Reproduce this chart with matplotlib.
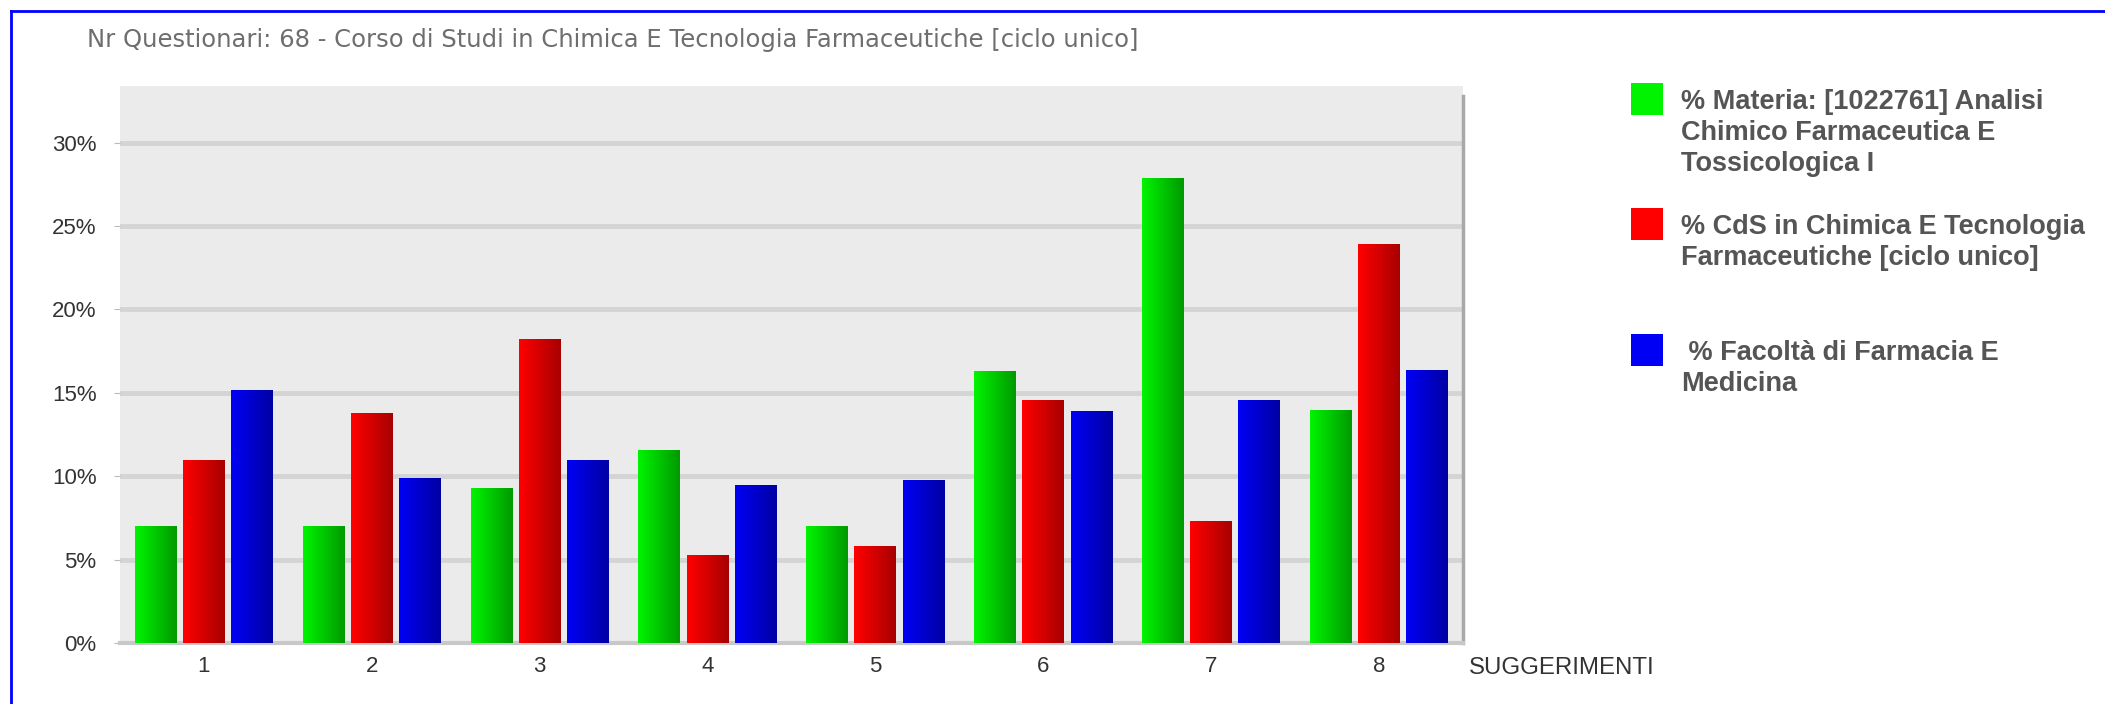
import numpy as np
import matplotlib.pyplot as plt
from matplotlib.patches import Rectangle
from matplotlib.lines import Line2D
from matplotlib.colors import LinearSegmentedColormap

# data (percent)
categories = ["1", "2", "3", "4", "5", "6", "7", "8"]
materia = [7.0, 7.0, 9.3, 11.6, 7.0, 16.3, 27.9, 14.0]
cds = [11.0, 13.8, 18.2, 5.3, 5.8, 14.6, 7.3, 23.9]
facolta = [15.2, 9.9, 11.0, 9.5, 9.8, 13.9, 14.6, 16.4]
yticks = [0, 5, 10, 15, 20, 25, 30]

series_labels = [
    "% Materia: [1022761] Analisi\nChimico Farmaceutica E\nTossicologica I",
    "% CdS in Chimica E Tecnologia\nFarmaceutiche [ciclo unico]",
    " % Facoltà di Farmacia E\nMedicina",
]
title = "Nr Questionari: 68 - Corso di Studi in Chimica E Tecnologia Farmaceutiche [ciclo unico]"

# left (light) -> right (dark) gradient for each series
grads = [
    ("#00f400", "#009a00"),
    ("#ff0000", "#a80000"),
    ("#0000f4", "#0000a4"),
]

W, H = 2105, 704
fig = plt.figure(figsize=(W / 100, H / 100), dpi=100)
fig.patch.set_facecolor("white")


def px(x, y):
    return x / W, 1 - y / H


# blue frame (left and top edges visible)
fig.add_artist(Line2D([11 / W, 11 / W], [0, 1 - 11 / H], color="#0000ff", lw=2, transform=fig.transFigure))
fig.add_artist(Line2D([11 / W, 1], [1 - 11 / H, 1 - 11 / H], color="#0000ff", lw=2, transform=fig.transFigure))

l, t = px(120, 86)
r, b = px(1463, 643)
ax = fig.add_axes([l, b, r - l, t - b])
ax.set_facecolor("#ebebeb")

x = np.arange(len(categories))
width = 0.25
offs = [-0.287, 0.0, 0.287]
ymax = 33.4

for vals, off, (c1, c2) in zip([materia, cds, facolta], offs, grads):
    cmap = LinearSegmentedColormap.from_list("g", [c1, c2])
    bars = ax.bar(x + off, vals, width, color=c1, zorder=3, linewidth=0)
    for rect in bars:
        bx, bw, bh = rect.get_x(), rect.get_width(), rect.get_height()
        im = ax.imshow(np.linspace(0, 1, 64).reshape(1, -1), cmap=cmap, aspect="auto",
                       extent=[bx, bx + bw, 0, bh], zorder=4, interpolation="bilinear")
        im.set_clip_path(rect)

ax.set_xlim(-0.5, len(categories) - 0.5)
ax.set_ylim(0, ymax)
ax.set_yticks(yticks)
ax.set_yticklabels([f"{v}%" for v in yticks])
ax.set_xticks(x)
ax.set_xticklabels(categories)
for v in yticks:
    ax.axhline(v, color="#d4d4d4", lw=3.5, zorder=1)

for s in ["top", "left"]:
    ax.spines[s].set_visible(False)
ax.spines["right"].set_color("#a8a8a8")
ax.spines["right"].set_linewidth(2.5)
ax.spines["right"].set_bounds(0, ymax - 0.6)
ax.spines["bottom"].set_color("#c8c8c8")
ax.spines["bottom"].set_linewidth(3)

ax.tick_params(axis="y", length=4, color="#bbbbbb", pad=13, labelsize=16, labelcolor="#333333")
ax.tick_params(axis="x", length=0, pad=9, labelsize=16, labelcolor="#333333")
for lab in ax.get_xticklabels() + ax.get_yticklabels():
    lab.set_fontfamily("Liberation Sans")

fig.text(*px(1469, 674), "SUGGERIMENTI", fontsize=17.3, color="#333333",
         family="Liberation Sans", ha="left", va="baseline")

fig.text(*px(87, 40), title, fontsize=17.5, color="#6e6e6e",
         family="DejaVu Sans", ha="left", va="center")

# legend drawn by hand to match the layout
sq_tops = [83, 208, 334]
for lbl, top, (c1, c2) in zip(series_labels, sq_tops, grads):
    lx, ly = px(1631, top + 32)
    fig.add_artist(Rectangle((lx, ly), 32 / W, 32 / H, transform=fig.transFigure,
                             facecolor=c1, edgecolor="none"))
    gx = fig.add_axes([lx + 0.35 * 32 / W, ly, 0.65 * 32 / W, 32 / H])
    gx.imshow(np.linspace(0, 1, 32).reshape(1, -1),
              cmap=LinearSegmentedColormap.from_list("g", [c1, c2]), aspect="auto")
    gx.axis("off")
    fig.text(*px(1681, top + 6), lbl, fontsize=19.5, fontweight="bold", color="#555555",
             family="Liberation Sans", ha="left", va="top", linespacing=1.25)

fig.savefig("out.png", dpi=100)
